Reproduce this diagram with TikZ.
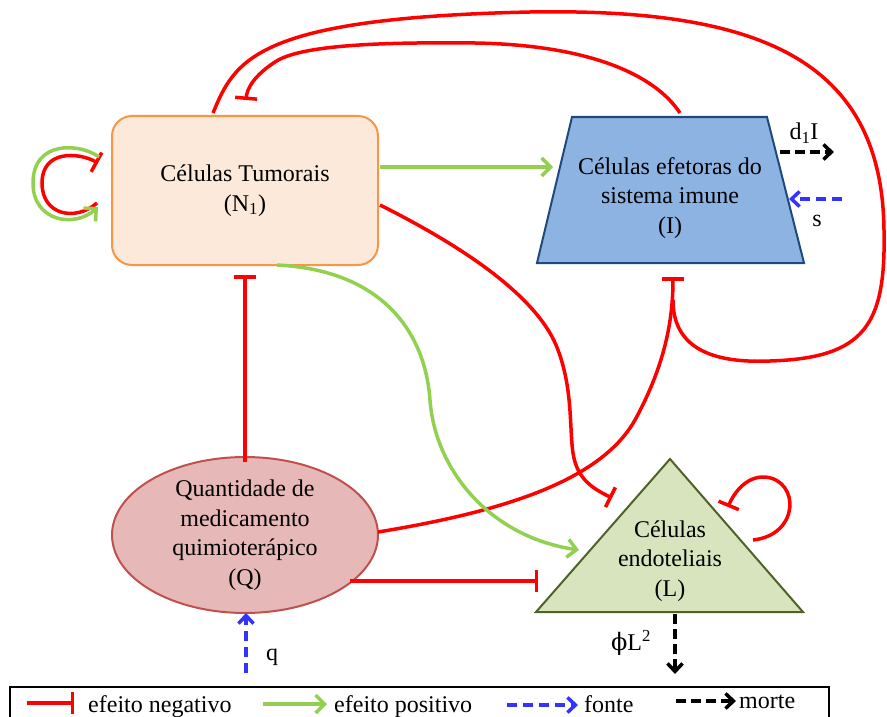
\documentclass[tikz,border=0pt]{standalone}
\usepackage{fontspec}
\setmainfont{Liberation Serif}
\newfontfamily\phifont{DejaVu Serif}
\usetikzlibrary{arrows.meta,shapes.geometric}
\definecolor{negred}{HTML}{FF0000}
\definecolor{posgreen}{HTML}{92D050}
\definecolor{srcblue}{HTML}{3333FF}
\definecolor{tumfill}{HTML}{FDE9D9}
\definecolor{tumdraw}{HTML}{F79646}
\definecolor{imfill}{HTML}{8DB3E2}
\definecolor{imdraw}{HTML}{1F497D}
\definecolor{qfill}{HTML}{E6B9B8}
\definecolor{qdraw}{HTML}{C0504D}
\definecolor{lfill}{HTML}{D7E4BD}
\definecolor{ldraw}{HTML}{4F6228}
\begin{document}
\begin{tikzpicture}[x=1pt,y=-1pt,
  every node/.style={font=\fontsize{24}{29.5}\selectfont, inner sep=0pt},
  negbar/.style={draw=negred, line width=3.5pt, -{Bar[width=22pt]}},
  negline/.style={draw=negred, line width=3.5pt},
  posarrow/.style={draw=posgreen, line width=3.5pt, -{Straight Barb[length=9pt,width=18pt]}},
  srcarrow/.style={draw=srcblue, line width=3.5pt, dash pattern=on 10pt off 6pt, -{Straight Barb[length=8pt,width=15pt]}},
  diearrow/.style={draw=black, line width=3.5pt, dash pattern=on 10pt off 5pt, -{Straight Barb[length=8pt,width=15pt]}},
  shapeline/.style={line width=2pt}
  ]
\useasboundingbox (0,0) rectangle (887,717);

% ---- nodes / shapes ----
\node[draw=tumdraw, fill=tumfill, shapeline, rounded corners=20pt,
      minimum width=266pt, minimum height=149pt, align=center]
      (tumor) at (245,190.5) {Células Tumorais\\(N\textsubscript{1})};

\draw[draw=imdraw, fill=imfill, shapeline] (572,117) -- (767,117) -- (804,263) -- (537,263) -- cycle;
\node[align=center] (immune) at (670,198) {Células efetoras do\\sistema imune\\(I)};

\node[ellipse, draw=qdraw, fill=qfill, shapeline, minimum width=266pt, minimum height=146pt, align=center]
      (drug) at (245,535) {Quantidade de\\medicamento\\quimioterápico\\(Q)};

\draw[draw=ldraw, fill=lfill, shapeline] (670,459) -- (803,612) -- (536,612) -- cycle;
\node[align=center] (endo) at (670,561) {Células\\endoteliais\\(L)};

% ---- connector end points ----
\coordinate (tumLoopR) at (97,203);
\coordinate (tumLoopRb) at (98,163);
\coordinate (tumLoopG) at (99,157);
\coordinate (tumLoopGb) at (98,207);
\coordinate (tumE) at (380,167);
\coordinate (imW) at (553,167);
\coordinate (tumTopL) at (213,113);
\coordinate (imBot) at (673,277);
\coordinate (imTop) at (680,113);
\coordinate (tumTopBar) at (246,100);
\coordinate (tumE2) at (380,205);
\coordinate (endoNW) at (612,498);
\coordinate (drugE) at (378,532);
\coordinate (tumS) at (277,265);
\coordinate (endoW) at (579,550);
\coordinate (drugN) at (245,462);
\coordinate (tumBotBar) at (245,275);
\coordinate (drugE2) at (350,581);
\coordinate (endoWbar) at (538,581);
\coordinate (endoLoopA) at (753,540);
\coordinate (endoLoopB) at (728,507);

% ---- connectors ----
\draw[negbar] (tumLoopR) .. controls (75,222) and (42,215) .. (42,183)
   .. controls (42,150) and (78,152) .. (tumLoopRb);
\draw[posarrow] (tumLoopG) .. controls (80,143) and (33,140) .. (33,183)
   .. controls (33,222) and (75,228) .. (tumLoopGb);

\draw[posarrow] (tumE) -- (imW);

\draw[negline] (tumTopL) .. controls (235,60) and (255,18) .. (530,12)
   .. controls (760,8) and (882,60) .. (884,230)
   .. controls (886,325) and (865,358) .. (770,361)
   .. controls (700,364) and (673,340) .. (673,300);

\draw[negbar] (imTop) .. controls (655,75) and (590,45) .. (475,43)
   .. controls (380,42) and (300,45) .. (275,62)
   .. controls (255,75) and (247,88) .. (tumTopBar);

\draw[negbar] (tumE2) .. controls (470,250) and (540,300) .. (558,350)
   .. controls (575,395) and (568,440) .. (575,462)
   .. controls (581,482) and (596,490) .. (endoNW);

\draw[negbar] (drugE) .. controls (500,512) and (600,482) .. (635,420)
   .. controls (665,365) and (673,320) .. (imBot);

\draw[posarrow] (tumS) .. controls (380,270) and (425,330) .. (430,400)
   .. controls (435,470) and (490,537) .. (endoW);

\draw[negbar] (drugN) -- (tumBotBar);
\draw[negbar] (drugE2) -- (endoWbar);

\draw[negbar] (endoLoopA) .. controls (800,535) and (800,480) .. (765,477)
   .. controls (745,476) and (733,495) .. (endoLoopB);

% ---- sources and deaths ----
\coordinate (dA) at (780,152); \coordinate (dB) at (834,152);
\coordinate (sA) at (842,199); \coordinate (sB) at (789,199);
\coordinate (qA) at (246,673); \coordinate (qB) at (246,613);
\coordinate (pA) at (675,614); \coordinate (pB) at (675,674);
\draw[diearrow] (dA) -- (dB);
\draw[srcarrow] (sA) -- (sB);
\draw[srcarrow] (qA) -- (qB);
\draw[diearrow] (pA) -- (pB);
\node (d1lab) at (804,133) {d\textsubscript{1}I};
\node (slab) at (817,221) {s};
\node (qlab) at (272,657) {q};
\node (philab) at (631,643) {{\phifont ϕ}L\textsuperscript{2}};

% ---- legend ----
\draw[line width=2pt] (10,687) rectangle (829,735);
\coordinate (l1a) at (27,703); \coordinate (l1b) at (74,703);
\coordinate (l2a) at (263,704); \coordinate (l2b) at (327,704);
\coordinate (l3a) at (507,705); \coordinate (l3b) at (578,705);
\coordinate (l4a) at (676,701); \coordinate (l4b) at (736,701);
\draw[negbar] (l1a) -- (l1b);
\draw[posarrow] (l2a) -- (l2b);
\draw[srcarrow] (l3a) -- (l3b);
\draw[diearrow] (l4a) -- (l4b);
\node[anchor=base west] (leg1) at (88,712) {efeito negativo};
\node[anchor=base west] (leg2) at (334,712) {efeito positivo};
\node[anchor=base west] (leg3) at (584,712) {fonte};
\node[anchor=base west] (leg4) at (739,708) {morte};
\end{tikzpicture}
\end{document}
